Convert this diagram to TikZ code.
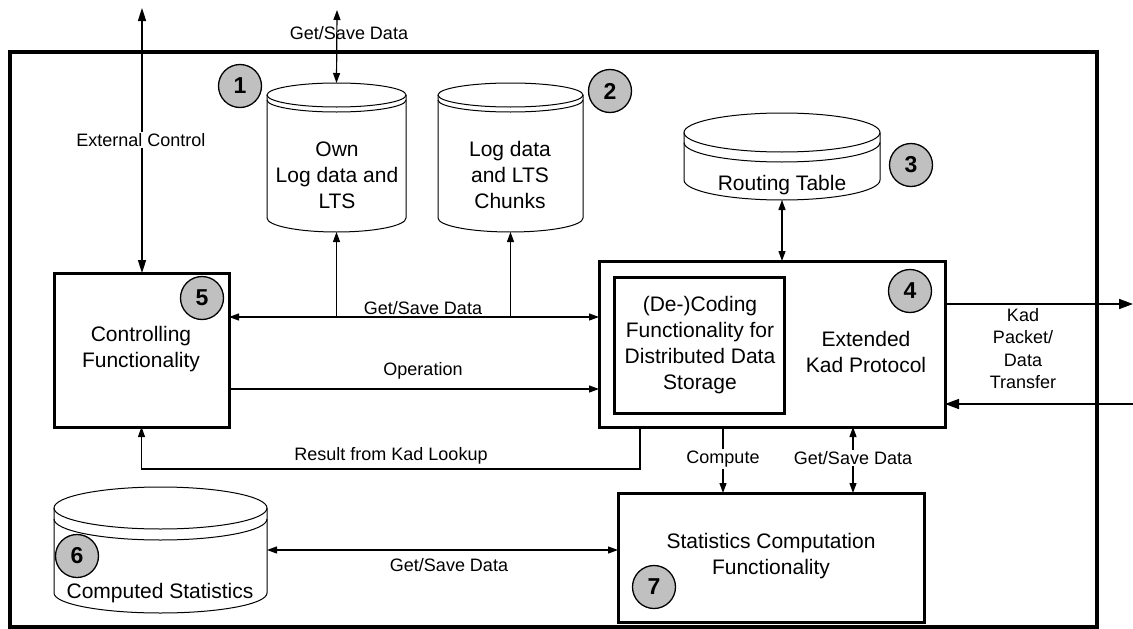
\documentclass[tikz,border=0pt]{standalone}
\usepackage{fontspec}
\setmainfont{Liberation Sans}
\usetikzlibrary{arrows.meta}
\definecolor{badgegray}{HTML}{C0C0C0}
\newcommand\dbcyl[8]{% #1 name, #2 x1, #3 x2, #4 ytop, #5 ybot, #6 ry top, #7 offset, #8 ry bottom
  \pgfmathsetmacro\cylcx{(#2+#3)/2}
  \pgfmathsetmacro\cylrx{(#3-#2)/2}
  \draw[cylline] (#2,#4+#6) -- (#2,#5-#8) arc[start angle=180,end angle=360,x radius=\cylrx*1pt,y radius=#8*1pt] -- (#3,#4+#6);
  \draw[cylline] (\cylcx,#4+#6) ellipse[x radius=\cylrx*1pt,y radius=#6*1pt];
  \draw[cylline] (#2,#4+#6+#7) arc[start angle=180,end angle=360,x radius=\cylrx*1pt,y radius=#6*1pt];
  \node[inner sep=0,outer sep=0,minimum width=(#3-#2)*1pt,minimum height=(#5-#4)*1pt,anchor=north west] (#1) at (#2,#4) {};
}
\begin{document}
\begin{tikzpicture}[x=1pt,y=-1pt,
  frame/.style={draw,line width=4pt},
  boxx/.style={draw,line width=3pt,inner sep=0,outer sep=0,anchor=north west},
  cylline/.style={line width=1pt},
  badge/.style={circle,draw,line width=1.3pt,fill=badgegray,minimum size=43pt,inner sep=0,font=\fontsize{23}{23}\bfseries\selectfont},
  lbl/.style={font=\fontsize{18}{22.5}\selectfont,inner sep=1.5pt,align=center},
  maintext/.style={font=\fontsize{21}{26}\selectfont,align=center,inner sep=0},
  conn/.style={line width=1.2pt,-{Triangle[length=10pt,width=7pt]}},
  bconn/.style={line width=1.2pt,{Triangle[length=10pt,width=7pt]}-{Triangle[length=10pt,width=7pt]}},
  kad/.style={line width=1.6pt,-{Triangle[length=14pt,width=10pt]}},
  ext/.style={line width=1.6pt,{Triangle[length=13pt,width=8pt]}-{Triangle[length=13pt,width=8pt]}}
]
\useasboundingbox (0,0) rectangle (1133,629);
\fill[white] (0,0) rectangle (1133,629);
% outer frame
\draw[frame] (10,52) rectangle (1097,627);

% cylinders
\dbcyl{c1}{267}{406}{83}{232}{12}{5}{14}
\dbcyl{c2}{438}{583}{83}{232}{12}{5}{14}
\dbcyl{c3}{684}{880}{113}{200}{19.5}{10}{20}
\dbcyl{c6}{54}{267}{487}{613}{21}{11}{20}

\node[maintext] (t1) at (337,175.5) {Own\\Log data and\\LTS};
\node[maintext] (t2) at (510,175) {Log data\\and LTS\\Chunks};
\node[maintext] (t3) at (782,185) {Routing Table};
\node[maintext] (t6) at (160,593) {Computed Statistics};

% boxes
\node[boxx,minimum width=175pt,minimum height=154pt] (box5) at (54,273) {};
\node[boxx,minimum width=346pt,minimum height=166pt] (box4) at (599,261) {};
\node[boxx,minimum width=170pt,minimum height=136pt] (inner) at (614,277) {};
\node[boxx,minimum width=306pt,minimum height=129pt] (box7) at (618,493) {};

\node[maintext] (t5) at (141,349.5) {Controlling\\Functionality};
\node[maintext] (tin) at (700,345) {(De-)Coding\\Functionality for\\Distributed Data\\Storage};
\node[maintext] (t4) at (866,351.5) {Extended\\Kad Protocol};
\node[maintext] (t7) at (771,556.5) {Statistics Computation\\Functionality};

% connectors
\coordinate (extTop) at (142,8);
\draw[ext] (extTop) -- (extTop |- box5.north);
\node[lbl,fill=white] (lext) at (141,140) {External Control};

\coordinate (dataTop) at (337,10);
\draw[bconn] (dataTop) -- (c1.north);
\node[lbl] (ltop) at (349,33) {Get/Save Data};

\coordinate (gs) at (423,317);
\draw[bconn] (gs -| box5.east) -- (gs -| box4.west);
\draw[conn] (gs -| c1.south) -- (c1.south);
\draw[conn] (gs -| c2.south) -- (c2.south);
\node[lbl,fill=white] (lgs) at (423,308) {Get/Save Data};

\coordinate (op) at (423,389);
\draw[conn] (op -| box5.east) -- (op -| box4.west);
\node[lbl] (lop) at (423,371) {Operation};

\coordinate (res) at (640,469);
\draw[conn] (res |- box4.south) -- (res) -- (res -| box5.south) -- (box5.south);
\node[lbl] (lres) at (391,456) {Result from Kad Lookup};

\draw[bconn] (c3.south) -- (c3.south |- box4.north);

\coordinate (kadOut) at (1133,304);
\coordinate (kadIn) at (1133,404);
\draw[kad] (kadOut -| box4.east) -- (kadOut);
\draw[kad] (kadIn) -- (kadIn -| box4.east);
\node[lbl] (lkad) at (1023,348.5) {Kad\\Packet/\\Data\\Transfer};

\coordinate (cmp) at (723,459);
\draw[conn] (cmp |- box4.south) -- (cmp |- box7.north);
\node[lbl,fill=white] (lcmp) at (cmp) {Compute};

\coordinate (gs47) at (853,458);
\draw[bconn] (gs47 |- box4.south) -- (gs47 |- box7.north);
\node[lbl,fill=white] (lgs47) at (gs47) {Get/Save Data};

\coordinate (st) at (449,550);
\draw[bconn] (st -| c6.east) -- (st -| box7.west);
\node[lbl] (lst) at (449,565) {Get/Save Data};

% badges
\node[badge] (b1) at (240,86) {1};
\node[badge] (b2) at (610,91) {2};
\node[badge] (b3) at (911,165) {3};
\node[badge] (b4) at (910,291) {4};
\node[badge] (b5) at (202,298) {5};
\node[badge] (b6) at (77,556) {6};
\node[badge] (b7) at (654,587) {7};
\end{tikzpicture}
\end{document}
